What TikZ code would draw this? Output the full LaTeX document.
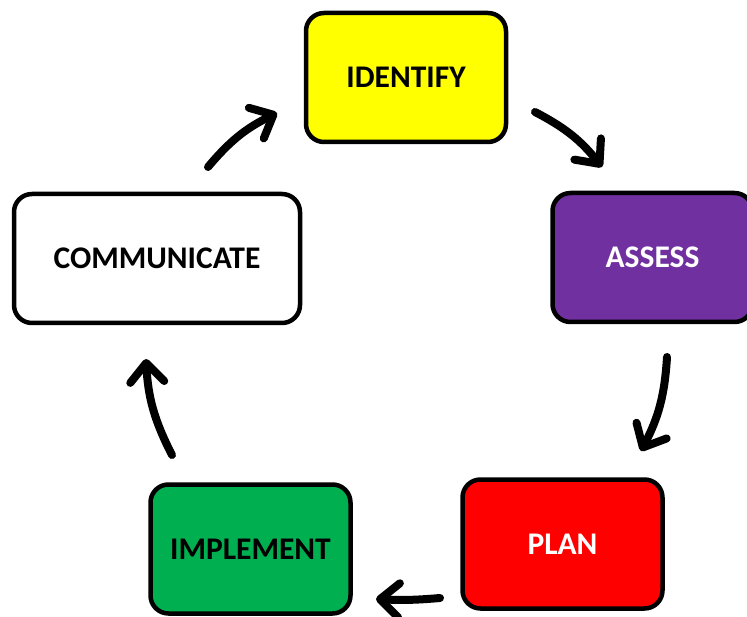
\documentclass[tikz,border=0pt]{standalone}
\usepackage{fontspec}
\setmainfont{Carlito}
\usepackage{tikz}
\usetikzlibrary{
    arrows.meta,
    positioning
}
\definecolor{stageyellow}{HTML}{FFFF00}
\definecolor{stagepurple}{HTML}{7030A0}
\definecolor{stagered}{HTML}{FF0000}
\definecolor{stagegreen}{HTML}{00B050}

\begin{document}
\begin{tikzpicture}[
            x=1pt, y=-1pt,
            stage/.style={draw=black, line width=4.5pt, rounded corners=18pt,
                fill=#1, minimum width=200pt, minimum height=129pt,
                font=\fontsize{31.5}{37}\selectfont\bfseries},
            cycle arrow/.style={line width=8pt, line cap=round,
                -{Straight Barb[round, length=19pt, width=34pt]}}
        ]
        \useasboundingbox (0,0) rectangle (747,617);

        % the five stages
        \node[stage=stageyellow] (identify) at (406,77.5) {IDENTIFY};
        \node[stage=stagepurple, text=white] (assess) at (652.5,257.5) {ASSESS};
        \node[stage=stagered, text=white] (plan) at (562.5,544) {PLAN};
        \node[stage=stagegreen] (implement) at (250.5,549) {IMPLEMENT};
        \node[stage=white, minimum width=286pt] (communicate) at (157,258.5) {COMMUNICATE};

        % arrow ends between the stages
        \coordinate (id-out) at (535,112);
        \coordinate (as-in)  at (602,167);
        \coordinate (as-out) at (667,357);
        \coordinate (pl-in)  at (641,451);
        \coordinate (pl-out) at (440,598);
        \coordinate (im-in)  at (376,599);
        \coordinate (im-out) at (172,455);
        \coordinate (co-in)  at (146,359);
        \coordinate (co-out) at (208,167);
        \coordinate (id-in)  at (277,113);

        \draw[cycle arrow] (id-out) to[bend left=12] (as-in);
        \draw[cycle arrow] (as-out) to[bend left=12] (pl-in);
        \draw[cycle arrow] (pl-out) to[bend left=4]  (im-in);
        \draw[cycle arrow] (im-out) to[bend left=12] (co-in);
        \draw[cycle arrow] (co-out) to[bend left=12] (id-in);
    \end{tikzpicture}
\end{document}
